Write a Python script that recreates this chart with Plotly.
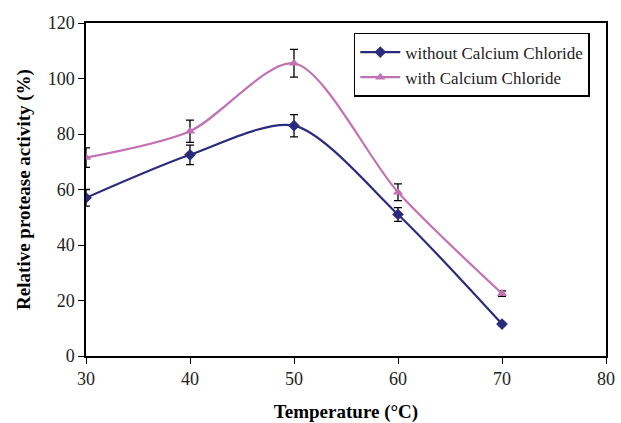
import plotly.graph_objects as go

temperature = [30, 40, 50, 60, 70]
without_cacl2 = [57, 72.5, 83, 51, 11.5]
without_err = [3, 3.5, 4, 2.5, 0.5]
with_cacl2 = [71.5, 81, 105.5, 59, 22.5]
with_err = [3.5, 4, 5, 3, 1]
x_ticks = [30, 40, 50, 60, 70, 80]
y_ticks = [0, 20, 40, 60, 80, 100, 120]
series_names = ["without Calcium Chloride", "with Calcium Chloride"]

font = "Liberation Serif"
def serif(s):
    return "<span style='font-family:Liberation Serif'>%s</span>" % s

fig = go.Figure()
fig.add_trace(go.Scatter(
    x=temperature, y=without_cacl2, name=serif(series_names[0]),
    mode="lines+markers", line=dict(color="#2B2B7E", width=2.2, shape="spline", smoothing=0.8),
    marker=dict(symbol="diamond", size=9, color="#2B2B7E"),
    error_y=dict(type="data", array=without_err, color="black", thickness=1.3, width=4),
))
fig.add_trace(go.Scatter(
    x=temperature, y=with_cacl2, name=serif(series_names[1]),
    mode="lines+markers", line=dict(color="#C272B4", width=2.2, shape="spline", smoothing=0.8),
    marker=dict(symbol="triangle-up", size=9, color="#C272B4"),
    error_y=dict(type="data", array=with_err, color="black", thickness=1.3, width=4),
))

tickfont = dict(family=font, size=18, color="#222")
fig.update_layout(
    template="none",
    width=621, height=423,
    margin=dict(l=86, r=15, t=23, b=67),
    plot_bgcolor="white", paper_bgcolor="white",
    font=dict(family=font, size=17, color="black"),
    legend=dict(x=0.515, y=0.97, xanchor="left", yanchor="top",
                bordercolor="black", borderwidth=1.5, bgcolor="white",
                font=dict(family=font, size=17, color="#222"), tracegroupgap=0,
                itemwidth=40),
    xaxis=dict(range=[30, 80], tickvals=x_ticks, ticktext=[serif(v) for v in x_ticks], ticks="outside",
               ticklen=6, tickcolor="black", showline=True, linecolor="black", linewidth=1.5,
               mirror=True, showgrid=False, zeroline=False, tickfont=tickfont, automargin=False,
               title=dict(text="<b>Temperature (°C)</b>", font=dict(family=font, size=19), standoff=16)),
    yaxis=dict(range=[0, 120], tickvals=y_ticks, ticktext=[serif(v) for v in y_ticks], ticks="outside",
               ticklen=6, tickcolor="black", showline=True, linecolor="black", linewidth=1.5,
               mirror=True, showgrid=False, zeroline=False, tickfont=tickfont, automargin=False,
               title=dict(text="<b>Relative protease activity (%)</b>", font=dict(family=font, size=19), standoff=12)),
)

fig.write_html("out.html")
